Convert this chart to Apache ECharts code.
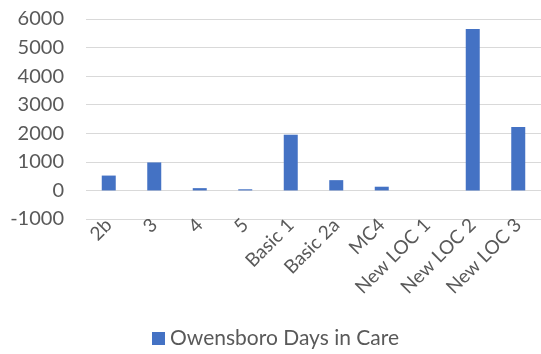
<!DOCTYPE html>
<html>
<head>
<meta charset="utf-8">
<script src="https://cdn.jsdelivr.net/npm/echarts@6/dist/echarts.min.js"></script>
<style>
  html, body { margin: 0; padding: 0; background: #fff; }
  #chart { width: 541px; height: 354px; }
</style>
</head>
<body>
<div id="chart"></div>
<script>
// Level-of-care categories and days in care for Owensboro
const categories = ['2b', '3', '4', '5', 'Basic 1', 'Basic 2a', 'MC4', 'New LOC 1', 'New LOC 2', 'New LOC 3'];
const daysInCare = [520, 980, 80, 40, 1950, 360, 130, 0, 5650, 2220];
const seriesName = 'Owensboro Days in Care';

const FONT = 'Lato, "Open Sans", sans-serif';
const TEXT = '#595959';

const chart = echarts.init(document.getElementById('chart'), null, { renderer: 'canvas' });
chart.setOption({
  animation: false,
  textStyle: { fontFamily: FONT },
  grid: { left: 86, right: 0, top: 19, bottom: 135, containLabel: false },
  legend: {
    top: 323,
    left: 147,
    itemWidth: 13,
    itemHeight: 13,
    itemGap: 4,
    icon: 'rect',
    textStyle: { fontFamily: FONT, fontSize: 21, color: TEXT },
    data: [seriesName]
  },
  xAxis: {
    type: 'category',
    data: categories,
    axisLine: { show: false, onZero: false },
    axisTick: { show: false },
    axisLabel: {
      rotate: 45,
      interval: 0,
      margin: 3,
      fontFamily: FONT,
      fontSize: 19,
      color: TEXT
    }
  },
  yAxis: {
    type: 'value',
    min: -1000,
    max: 6000,
    interval: 1000,
    axisLine: { show: false },
    axisTick: { show: false },
    splitLine: { lineStyle: { color: '#d9d9d9', width: 1 } },
    axisLabel: {
      margin: 22,
      fontFamily: FONT,
      fontSize: 20,
      color: TEXT,
      formatter: (v) => String(v)
    }
  },
  series: [{
    name: seriesName,
    type: 'bar',
    data: daysInCare,
    barWidth: 14,
    itemStyle: { color: '#4472c4' }
  }]
});
</script>
</body>
</html>
